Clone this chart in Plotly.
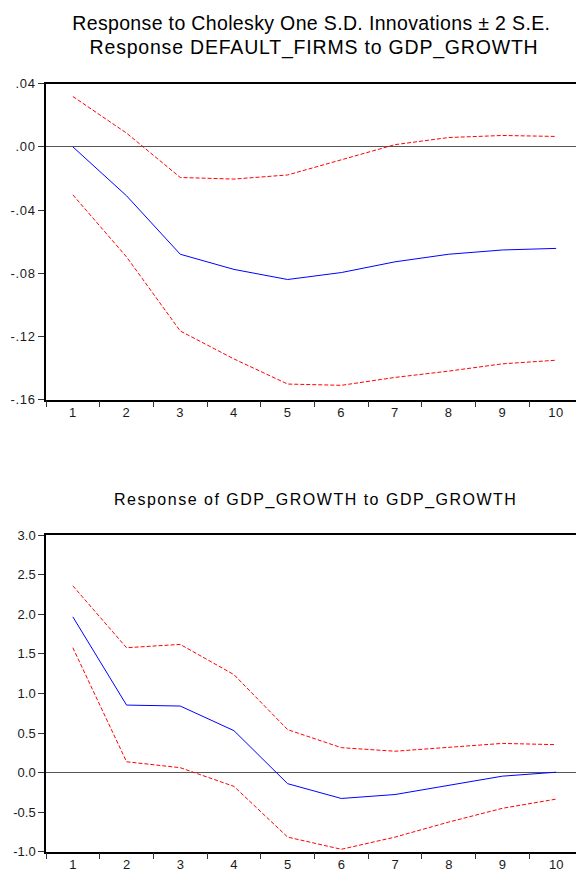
import plotly.graph_objects as go

periods = ["1", "2", "3", "4", "5", "6", "7", "8", "9", "10"]

# Response of DEFAULT_FIRMS to GDP_GROWTH
default_resp = [0.000, -0.031, -0.068, -0.0776, -0.084, -0.0796, -0.0728, -0.068, -0.0653, -0.0643]
default_upper = [0.0319, 0.0087, -0.0194, -0.0204, -0.0178, -0.0080, 0.0014, 0.0059, 0.0072, 0.0066]
default_lower = [-0.0304, -0.0697, -0.1166, -0.1343, -0.1502, -0.1510, -0.1460, -0.1420, -0.1374, -0.1351]

# Response of GDP_GROWTH to GDP_GROWTH
gdp_resp = [1.968, 0.853, 0.841, 0.530, -0.140, -0.327, -0.277, -0.161, -0.045, 0.005]
gdp_upper = [2.36, 1.578, 1.62, 1.238, 0.543, 0.315, 0.270, 0.315, 0.369, 0.353]
gdp_lower = [1.578, 0.137, 0.062, -0.174, -0.815, -0.969, -0.815, -0.625, -0.451, -0.335]

top_ticks = [0.04, 0.00, -0.04, -0.08, -0.12, -0.16]
top_ticktext = [".04", ".00", "-.04", "-.08", "-.12", "-.16"]
bot_ticks = [3.0, 2.5, 2.0, 1.5, 1.0, 0.5, 0.0, -0.5, -1.0]
bot_ticktext = ["3.0", "2.5", "2.0", "1.5", "1.0", "0.5", "0.0", "-0.5", "-1.0"]

title_top_1 = "Response to Cholesky One S.D. Innovations \u00b1 2 S.E."
title_top_2 = "Response DEFAULT_FIRMS to GDP_GROWTH"
title_bot = "Response of GDP_GROWTH to GDP_GROWTH"

W, H = 576, 885
FONT = "Liberation Sans, Arial, sans-serif"

fig = go.Figure()

blue = dict(color="#0000FF", width=1)
red = dict(color="#FF0000", width=1, dash="4px,2px")

for xa, ya, resp, up, lo in [("x", "y", default_resp, default_upper, default_lower),
                             ("x2", "y2", gdp_resp, gdp_upper, gdp_lower)]:
    fig.add_trace(go.Scatter(x=periods, y=up, mode="lines", line=red, xaxis=xa, yaxis=ya, showlegend=False))
    fig.add_trace(go.Scatter(x=periods, y=lo, mode="lines", line=red, xaxis=xa, yaxis=ya, showlegend=False))
    fig.add_trace(go.Scatter(x=periods, y=resp, mode="lines", line=blue, xaxis=xa, yaxis=ya, showlegend=False))

x_left = 46 / W
top_dom = [1 - 399.3 / H, 1 - 78 / H]
bot_dom = [1 - 859.3 / H, 1 - 537.3 / H]

xcommon = dict(type="category", range=[-0.5, 9.37], tickson="boundaries", ticks="outside",
               ticklen=6, tickwidth=1, tickcolor="#333333", showline=True, linecolor="black",
               linewidth=1.5, mirror=True, showgrid=False, zeroline=False,
               tickfont=dict(family=FONT, size=13, color="#1a1a1a"), domain=[x_left, 1.0],
               fixedrange=True)
ycommon = dict(ticks="outside", ticklen=6, tickwidth=1, tickcolor="#333333", showline=True,
               linecolor="black", linewidth=1.5, mirror=False, showgrid=False, zeroline=True,
               zerolinecolor="#555555", zerolinewidth=1.3,
               tickfont=dict(family=FONT, size=13, color="#1a1a1a"), fixedrange=True)

fig.update_layout(
    width=W, height=H,
    margin=dict(l=0, r=0, t=0, b=0),
    paper_bgcolor="white", plot_bgcolor="white",
    xaxis=dict(xcommon, anchor="y"),
    yaxis=dict(ycommon, domain=top_dom, range=[-0.16, 0.04], tickvals=top_ticks,
               ticktext=top_ticktext, anchor="x"),
    xaxis2=dict(xcommon, anchor="y2"),
    yaxis2=dict(ycommon, domain=bot_dom, range=[-1.0, 3.0], tickvals=bot_ticks,
                ticktext=bot_ticktext, anchor="x2"),
    annotations=[
        dict(text=title_top_1, x=311 / W, y=1 - 16.5 / H, xref="paper", yref="paper",
             xanchor="center", yanchor="middle", showarrow=False,
             font=dict(family=FONT, size=19.5, color="black")),
        dict(text=title_top_2, x=314 / W, y=1 - 41 / H, xref="paper", yref="paper",
             xanchor="center", yanchor="middle", showarrow=False,
             font=dict(family=FONT, size=19.5, color="black")),
        dict(text=title_bot, x=315 / W, y=1 - 502 / H, xref="paper", yref="paper",
             xanchor="center", yanchor="middle", showarrow=False,
             font=dict(family=FONT, size=16, color="black")),
    ],
)

post = """
document.documentElement.style.margin = '0';
document.body.style.margin = '0';
document.body.style.padding = '0';
document.body.style.overflow = 'hidden';
var gd = document.getElementById('{plot_id}');
gd.querySelectorAll('.xtick text, .ytick text').forEach(function(t){ t.style.letterSpacing = '0.7px'; });
var ann = gd.querySelectorAll('.annotation-text');
if (ann.length >= 3) {
  ann[0].style.letterSpacing = '0.35px';
  ann[1].style.letterSpacing = '0.8px';
  ann[2].style.letterSpacing = '1.5px';
}
"""

fig.write_html("out.html", post_script=post, config={"displayModeBar": False, "responsive": False})
